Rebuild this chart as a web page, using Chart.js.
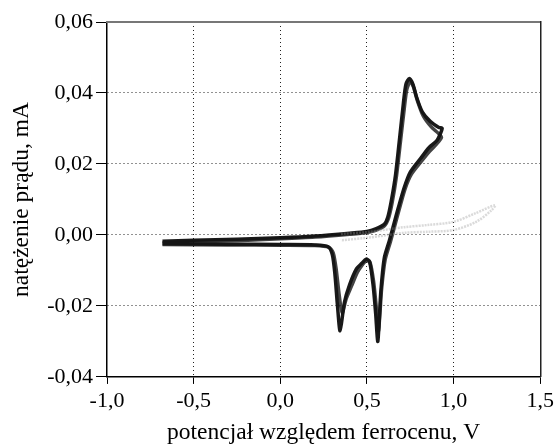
<!DOCTYPE html>
<html>
<head>
<meta charset="utf-8">
<script src="https://cdn.jsdelivr.net/npm/chart.js@4/dist/chart.umd.min.js"></script>
<style>
  body { margin: 0; background: #fff; }
  #wrap { width: 558px; height: 445px; }
</style>
</head>
<body>
<div id="wrap"><canvas id="cv-chart"></canvas></div>
<script>
// potential vs ferrocene (V) and current (mA)

// cycle 1 - outer trace
const cycle1V = [-0.68, -0.5, -0.25, 0.0, 0.2, 0.4, 0.5, 0.55, 0.6, 0.62, 0.64, 0.665, 0.69, 0.71, 0.725, 0.745,
  0.765, 0.785, 0.82, 0.865, 0.915, 0.934, 0.905, 0.86, 0.81, 0.75, 0.716, 0.68, 0.655, 0.63, 0.60, 0.58, 0.57,
  0.562, 0.55, 0.535, 0.515, 0.495, 0.47, 0.44, 0.40, 0.37, 0.345, 0.33, 0.315, 0.30, 0.276, 0.2, 0.0, -0.3, -0.68];
const cycle1I = [-0.0018, -0.0015, -0.0012, -0.0008, -0.0003, 0.0005, 0.001, 0.0017, 0.003, 0.005, 0.0095, 0.017,
  0.028, 0.037, 0.0425, 0.0441, 0.0425, 0.039, 0.0346, 0.032, 0.0303, 0.030, 0.0267, 0.0247, 0.0216, 0.0177, 0.0135,
  0.0075, 0.003, -0.0015, -0.0065, -0.016, -0.025, -0.030, -0.022, -0.014, -0.0075, -0.0068, -0.008, -0.0095,
  -0.014, -0.019, -0.027, -0.020, -0.011, -0.0055, -0.0033, -0.0028, -0.0027, -0.0026, -0.0025];

// cycle 2 - inner trace
const cycle2V = [-0.68, -0.5, -0.25, 0.0, 0.2, 0.4, 0.5, 0.55, 0.6, 0.625, 0.645, 0.67, 0.695, 0.715, 0.73, 0.75,
  0.77, 0.79, 0.825, 0.87, 0.915, 0.93, 0.9, 0.86, 0.81, 0.755, 0.72, 0.685, 0.66, 0.635, 0.605, 0.585, 0.575,
  0.566, 0.553, 0.538, 0.518, 0.497, 0.472, 0.445, 0.41, 0.38, 0.357, 0.34, 0.322, 0.305, 0.28, 0.2, 0.0, -0.3, -0.68];
const cycle2I = [-0.0022, -0.0019, -0.0016, -0.0011, -0.0006, 0.0002, 0.0007, 0.0013, 0.0025, 0.0048, 0.009, 0.0165,
  0.027, 0.0355, 0.041, 0.0432, 0.0415, 0.038, 0.0335, 0.0305, 0.0285, 0.0275, 0.0255, 0.0235, 0.0205, 0.017, 0.013,
  0.007, 0.0025, -0.002, -0.007, -0.015, -0.022, -0.027, -0.020, -0.013, -0.0078, -0.0072, -0.0085, -0.0105,
  -0.0145, -0.018, -0.022, -0.017, -0.0095, -0.005, -0.0035, -0.003, -0.0029, -0.0028, -0.0027];

// first scan - faint grey trace
const scan0V = [0.35, 0.5, 0.716, 0.85, 1.0, 1.13, 1.24, 1.22, 1.13, 1.0, 0.85, 0.716, 0.5, 0.35];
const scan0I = [0.0003, 0.0008, 0.0022, 0.0028, 0.0037, 0.0062, 0.0084, 0.007, 0.0037, 0.0014, 0.0009, 0.0006, -0.0008, -0.0015];

const xTicks = [-1.0, -0.5, 0.0, 0.5, 1.0, 1.5];
const yTicks = [-0.04, -0.02, 0.0, 0.02, 0.04, 0.06];

const xTitle = "potencjał względem ferrocenu, V";
const yTitle = "natężenie prądu, mA";

function toPoints(xs, ys) {
  return xs.map((x, i) => ({ x: x, y: ys[i] }));
}

const serif = "'Liberation Serif', 'DejaVu Serif', serif";
const dotted = [1, 3];

// hide the grid line on the first/last tick, the frame covers those
function edgeColor(ticks) {
  return ctx => {
    const v = ctx.tick ? ctx.tick.value : null;
    if (v === null) return "#222";
    return (v === ticks[0] || v === ticks[ticks.length - 1]) ? "rgba(0,0,0,0)" : "#222";
  };
}

const canvas = document.getElementById("cv-chart");
new Chart(canvas, {
  type: "scatter",
  data: {
    datasets: [
      {
        label: "scan 0",
        data: toPoints(scan0V, scan0I),
        showLine: true,
        borderColor: "rgba(150,150,150,0.35)",
        borderWidth: 2.5,
        borderDash: [2, 1],
        tension: 0.3,
        pointRadius: 0
      },
      {
        label: "cycle 2",
        data: toPoints(cycle2V, cycle2I),
        showLine: true,
        borderColor: "rgba(20,20,20,0.8)",
        borderWidth: 3.5,
        tension: 0.25,
        pointRadius: 0
      },
      {
        label: "cycle 1",
        data: toPoints(cycle1V, cycle1I),
        showLine: true,
        borderColor: "rgba(0,0,0,0.9)",
        borderWidth: 3.5,
        tension: 0.25,
        pointRadius: 0
      }
    ]
  },
  options: {
    animation: false,
    responsive: true,
    maintainAspectRatio: false,
    devicePixelRatio: 1,
    layout: { padding: { top: 22, right: 0, left: 8, bottom: 0 } },
    plugins: {
      legend: { display: false },
      tooltip: { enabled: false }
    },
    scales: {
      x: {
        type: "linear",
        min: -1.0,
        max: 1.5,
        afterBuildTicks: s => { s.ticks = xTicks.map(v => ({ value: v })); },
        ticks: {
          color: "#000",
          font: { family: serif, size: 22 },
          padding: 4,
          maxRotation: 0,
          callback: v => v.toFixed(1).replace(".", ",")
        },
        grid: {
          color: edgeColor(xTicks),
          lineWidth: 1,
          tickColor: "#000",
          tickLength: 7,
          tickBorderDash: []
        },
        border: { display: true, color: "#000", width: 1.5, dash: dotted },
        title: {
          display: true,
          text: xTitle,
          color: "#000",
          font: { family: serif, size: 23.5, lineHeight: 1.05 },
          padding: { top: 2, bottom: 0 }
        }
      },
      y: {
        type: "linear",
        min: -0.04,
        max: 0.06,
        afterBuildTicks: s => { s.ticks = yTicks.map(v => ({ value: v })); },
        ticks: {
          color: "#000",
          font: { family: serif, size: 22 },
          padding: 3,
          callback: v => v.toFixed(2).replace(".", ",")
        },
        grid: {
          color: edgeColor(yTicks),
          lineWidth: 1,
          tickColor: "#000",
          tickLength: 11,
          tickBorderDash: []
        },
        border: { display: true, color: "#000", width: 1.5, dash: dotted },
        title: {
          display: true,
          text: yTitle,
          color: "#000",
          font: { family: serif, size: 23.5 },
          padding: { top: 0, bottom: 8 }
        }
      },
      x2: {
        axis: "x",
        type: "linear",
        position: "top",
        min: -1.0,
        max: 1.5,
        ticks: { display: false },
        grid: { display: false, drawTicks: false },
        border: { display: true, color: "#777", width: 2 }
      },
      y2: {
        axis: "y",
        type: "linear",
        position: "right",
        min: -0.04,
        max: 0.06,
        ticks: { display: false },
        grid: { display: false, drawTicks: false },
        border: { display: true, color: "#222", width: 1.5 }
      }
    }
  }
});
</script>
</body>
</html>
